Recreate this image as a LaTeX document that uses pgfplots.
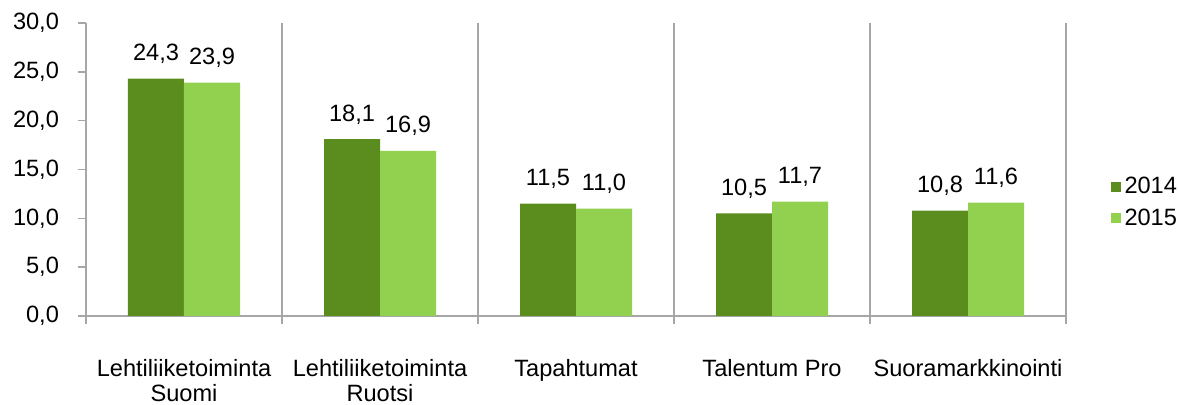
\documentclass[border=0pt]{standalone}
\usepackage{pgfplots}
\pgfplotsset{compat=1.18}
\usepackage{fontspec}
\setmainfont{Liberation Sans}
\definecolor{dgreen}{HTML}{5B8C1E}
\definecolor{lgreen}{HTML}{92D050}
\definecolor{axgray}{HTML}{A6A6A6}
\begin{document}
\begin{tikzpicture}
\useasboundingbox (-43pt,-44.5pt) rectangle (546pt,158pt);
\begin{axis}[
  scale only axis,
  width=490pt, height=146.5pt,
  xmin=-0.5, xmax=4.5,
  ymin=0, ymax=30,
  ytick={0,5,...,30},
  xtick={-0.5,0.5,1.5,2.5,3.5,4.5},
  xticklabels={},
  xmajorgrids,
  grid style={axgray, line width=0.8pt},
  axis x line*=bottom,
  axis y line*=left,
  axis line style={axgray, line width=0.8pt, -},
  tick style={axgray, line width=0.8pt},
  tick align=outside,
  major tick length=4pt,
  extra x ticks={0,1,2,3,4},
  extra x tick labels={{Lehtiliiketoiminta\\Suomi},{Lehtiliiketoiminta\\Ruotsi},{Tapahtumat},{Talentum Pro},{Suoramarkkinointi}},
  extra x tick style={grid=none, major tick length=0pt,
    tick label style={align=center, font=\fontsize{11.8}{12.5}\selectfont, yshift=-18pt, anchor=north}},
  /pgf/number format/.cd, fixed, fixed zerofill, precision=1, use comma, assume math mode=true,
  /pgfplots/.cd,
  yticklabel style={font=\fontsize{11.8}{13}\selectfont, xshift=-6pt},
  ybar=0pt,
  bar width=28pt,
  nodes near coords,
  every node near coord/.append style={font=\fontsize{11.8}{13}\selectfont, black, yshift=4pt},
  legend style={at={(rel axis cs:1.045,0.387)}, anchor=west, draw=none, fill=none,
    font=\fontsize{11.8}{13}\selectfont, row sep=2pt, inner sep=0pt,
    /tikz/every even column/.append style={column sep=1pt}},
  legend cell align=left,
  legend image code/.code={\fill[#1] (0pt,-2.5pt) rectangle (5pt,2.5pt);},
]
\addplot[fill=dgreen, draw=none] coordinates {(0,24.3) (1,18.1) (2,11.5) (3,10.5) (4,10.8)};
\addplot[fill=lgreen, draw=none] coordinates {(0,23.9) (1,16.9) (2,11.0) (3,11.7) (4,11.6)};
\legend{2014,2015}
\end{axis}
\end{tikzpicture}
\end{document}
